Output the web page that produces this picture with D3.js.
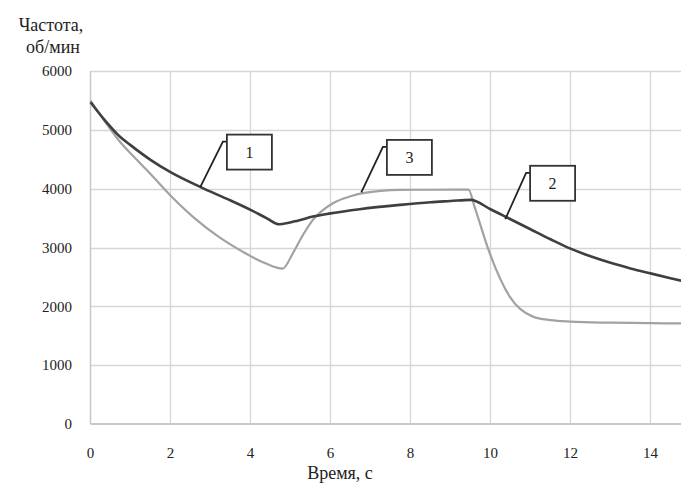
<!DOCTYPE html>
<html>
<head>
<meta charset="utf-8">
<script src="https://cdn.jsdelivr.net/npm/d3@7"></script>
<style>
  body { margin: 0; background: #fff; }
  svg { display: block; }
</style>
</head>
<body>
<div id="chart"></div>
<script>
// time, s
var tDark = [0, 0.35, 0.73, 1.0, 1.5, 2.0, 2.78, 3.4, 4.0, 4.4, 4.72, 4.8, 5.2, 5.56, 6.0, 6.73, 7.73, 8.5, 9.0, 9.5, 10.0, 10.5, 11.0, 11.5, 12.0, 12.5, 13.0, 13.5, 14.0, 14.5, 15];
// curve 1-2 (dark), ob/min
var vDark = [5470, 5170, 4887, 4740, 4490, 4280, 4018, 3830, 3640, 3500, 3395, 3400, 3460, 3526, 3580, 3651, 3724, 3770, 3790, 3810, 3650, 3480, 3310, 3140, 2980, 2850, 2740, 2645, 2560, 2478, 2400];

var tGray = [0, 0.35, 0.7, 1.12, 1.5, 2.03, 2.6, 3.2, 3.8, 4.37, 4.8, 5.06, 5.3, 5.56, 6.06, 6.5, 6.81, 7.73, 8.5, 9.45, 9.6, 9.98, 10.48, 11.06, 11.5, 12.0, 13.0, 14.0, 15];
// curve 3 (gray), ob/min
var vGray = [5500, 5150, 4827, 4516, 4250, 3864, 3500, 3184, 2930, 2731, 2640, 2903, 3200, 3469, 3753, 3870, 3923, 3980, 3982, 3985, 3696, 2903, 2165, 1825, 1765, 1740, 1722, 1713, 1710];

var xTicks = [0, 2, 4, 6, 8, 10, 12, 14];
var yTicks = [0, 1000, 2000, 3000, 4000, 5000, 6000];

// callouts: label, leader foot [t, v], leader top [t, v]
var calloutLabels = ["1", "3", "2"];
var calloutFoot = [[2.74, 4022], [6.77, 3937], [10.37, 3482]];
var calloutTop = [[3.31, 4800], [7.31, 4710], [10.89, 4270]];

var FONT = "'Liberation Serif', 'Times New Roman', Times, 'DejaVu Serif', serif";
var W = 681, H = 487;
var svg = d3.select("#chart").append("svg").attr("width", W).attr("height", H)
    .attr("font-family", FONT);

var x = d3.scaleLinear().domain([0, 15]).range([90.5, 690.5]);
var y = d3.scaleLinear().domain([0, 6000]).range([424, 71]);

// grid
svg.append("g").selectAll("line").data(yTicks.slice(1)).enter().append("line")
    .attr("x1", x(0)).attr("x2", W)
    .attr("y1", function (d) { return Math.round(y(d)) + 0.5; })
    .attr("y2", function (d) { return Math.round(y(d)) + 0.5; })
    .attr("stroke", "#d6d6d6").attr("stroke-width", 1.3);

svg.append("g").selectAll("line").data(xTicks.slice(1)).enter().append("line")
    .attr("x1", function (d) { return x(d); }).attr("x2", function (d) { return x(d); })
    .attr("y1", y(6000)).attr("y2", y(0))
    .attr("stroke", "#d6d6d6").attr("stroke-width", 1.3);

// axes lines
svg.append("line").attr("x1", x(0)).attr("x2", x(0)).attr("y1", y(6000)).attr("y2", y(0))
    .attr("stroke", "#c8c8c8").attr("stroke-width", 1.5);
svg.append("line").attr("x1", x(0)).attr("x2", W).attr("y1", y(0)).attr("y2", y(0))
    .attr("stroke", "#c8c8c8").attr("stroke-width", 2);

// tick labels
svg.append("g").selectAll("text").data(yTicks).enter().append("text")
    .attr("x", 72).attr("y", function (d) { return y(d); })
    .attr("dy", "0.35em").attr("text-anchor", "end")
    .attr("font-size", 15).attr("fill", "#222")
    .text(function (d) { return d; });

svg.append("g").selectAll("text").data(xTicks).enter().append("text")
    .attr("x", function (d) { return x(d); }).attr("y", 458)
    .attr("text-anchor", "middle")
    .attr("font-size", 15).attr("fill", "#222")
    .text(function (d) { return d; });

// axis titles
svg.append("text").attr("x", 51).attr("y", 31).attr("text-anchor", "middle")
    .attr("font-size", 18).attr("fill", "#222").text("Частота,");
svg.append("text").attr("x", 53).attr("y", 53).attr("text-anchor", "middle")
    .attr("font-size", 18).attr("fill", "#222").text("об/мин");
svg.append("text").attr("x", 340).attr("y", 479).attr("text-anchor", "middle")
    .attr("font-size", 18).attr("fill", "#222").text("Время, с");

// curves
var line = d3.line()
    .x(function (d) { return x(d[0]); })
    .y(function (d) { return y(d[1]); })
    .curve(d3.curveMonotoneX);

svg.append("path").datum(d3.zip(tGray, vGray))
    .attr("d", line).attr("fill", "none")
    .attr("stroke", "#a2a2a2").attr("stroke-width", 2.2);

svg.append("path").datum(d3.zip(tDark, vDark))
    .attr("d", line).attr("fill", "none")
    .attr("stroke", "#3f3f3f").attr("stroke-width", 2.6);

// callouts
calloutLabels.forEach(function (lab, i) {
    var fx = x(calloutFoot[i][0]), fy = y(calloutFoot[i][1]);
    var tx = x(calloutTop[i][0]), ty = y(calloutTop[i][1]);
    svg.append("polyline")
        .attr("points", [[fx, fy], [tx, ty], [tx + 4, ty]].join(" "))
        .attr("fill", "none").attr("stroke", "#222").attr("stroke-width", 1.8);
    var bx = tx + 4, by = ty - 7;
    svg.append("rect").attr("x", bx).attr("y", by).attr("width", 45).attr("height", 35)
        .attr("fill", "#fff").attr("stroke", "#333").attr("stroke-width", 1.8);
    svg.append("text").attr("x", bx + 22.5).attr("y", by + 17.5).attr("dy", "0.35em")
        .attr("text-anchor", "middle").attr("font-size", 16).attr("fill", "#222").text(lab);
});
</script>
</body>
</html>
